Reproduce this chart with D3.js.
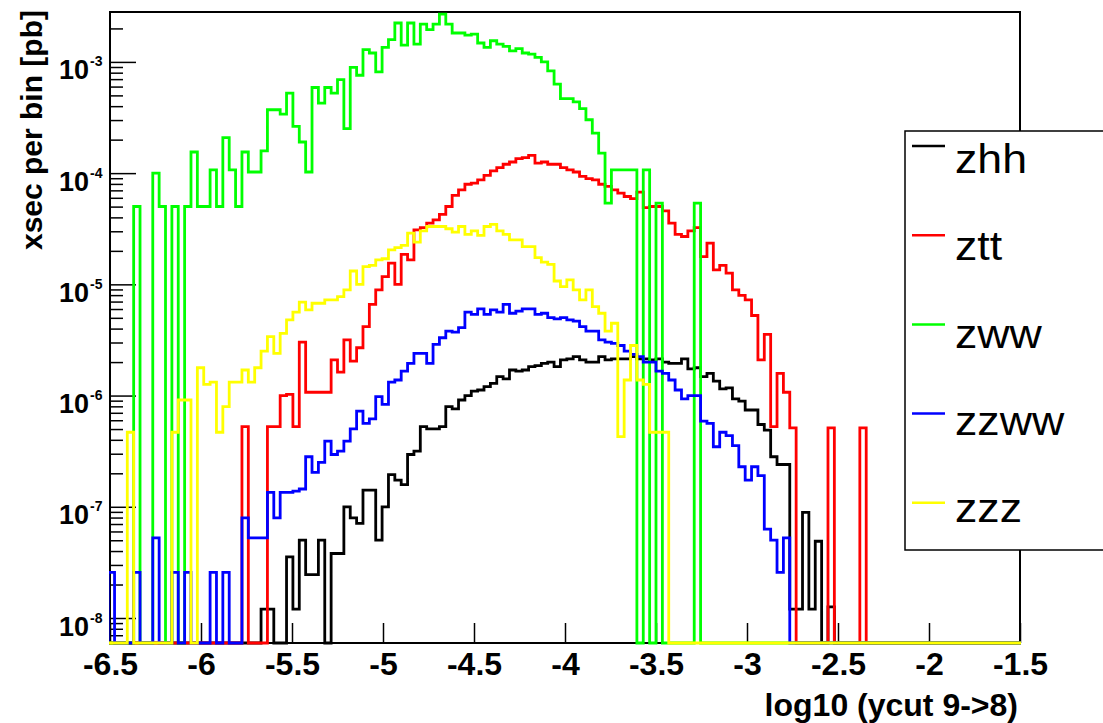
<!DOCTYPE html>
<html>
<head>
<meta charset="utf-8">
<script src="https://cdn.jsdelivr.net/npm/d3@7/dist/d3.min.js"></script>
<style>
body { margin: 0; background: #fff; }
svg { display: block; font-family: "Liberation Sans", Arial, sans-serif; }
</style>
</head>
<body>
<script>
(function(){

//histogram binning (200 bins from -7 to 0)
var binLow = -7, binWidth = 0.035, nBins = 200;

//series names and ROOT colours
var seriesNames = ["zhh", "ztt", "zww", "zzww", "zzz"];
var seriesColors = ["#000000", "#ff0000", "#00ff00", "#0000ff", "#ffff00"];

//axis ticks
var xTicks = [-6.5, -6, -5.5, -5, -4.5, -4, -3.5, -3, -2.5, -2, -1.5];
var yDecades = [-8, -7, -6, -5, -4, -3];

//log10(xsec per bin), first value is bin *Start, null = empty bin
var zhhStart = 38;
var zhhLog = [-7.92, -7.92, null, null, -7.45, -7.92, -7.3, -7.61, -7.61, -7.3,
    null, -7.42, -7.42, -7.0, -7.1, -7.15, -6.85, -6.85, -7.3, -7.0,
    -6.71, -6.76, -6.8, -6.53, -6.5, -6.28, -6.3, -6.3, -6.28, -6.1,
    -6.12, -6.04, -6.0, -5.96, -5.95, -5.92, -5.89, -5.83, -5.85, -5.77,
    -5.78, -5.77, -5.74, -5.73, -5.71, -5.7, -5.74, -5.68, -5.67, -5.65,
    -5.68, -5.7, -5.7, -5.65, -5.68, -5.67, -5.67, -5.67, -5.65, -5.67,
    -5.67, -5.68, -5.67, -5.7, -5.71, -5.71, -5.67, -5.76, -5.75, -5.83,
    -5.8, -5.87, -5.94, -5.93, -6.03, -6.05, -6.13, -6.13, -6.26, -6.31,
    -6.55, -6.62, -6.62, -7.92, -7.92, -7.05, -7.92, -7.31, null, -7.9];

var zttStart = 35;
var zttLog = [-6.28, null, null, null, -6.28, -6.28, -6.0, -5.99, -6.28, -5.52,
    -5.97, -5.97, -5.97, -5.97, -5.68, -5.79, -5.5, -5.69, -5.57, -5.38,
    -5.18, -5.05, -4.93, -4.81, -5.0, -4.73, -4.78, -4.51, -4.49, -4.45,
    -4.42, -4.37, -4.3, -4.2, -4.15, -4.1, -4.09, -4.06, -4.02, -3.98,
    -3.95, -3.92, -3.9, -3.87, -3.86, -3.84, -3.91, -3.9, -3.92, -3.92,
    -3.95, -3.97, -3.99, -4.03, -4.05, -4.06, -4.1, -4.12, -4.15, -4.18,
    -4.21, -4.23, -4.17, -4.31, -4.3, -4.3, -4.34, -4.45, -4.55, -4.57,
    -4.52, -4.49, -4.75, -4.63, -4.87, -4.83, -4.9, -5.05, -5.1, -5.14,
    -5.28, -5.68, -5.45, -6.28, -5.8, -5.97, -6.29, null, null, null,
    null, null, -6.29, null, null, null, null, -6.29];

var zwwStart = 18;
var zwwLog = [-4.3, null, null, -4.0, -4.3, null, -4.3, null, -4.3, -3.81,
    -4.3, -4.3, -3.97, -4.3, -3.68, -3.97, -4.3, -3.81, -3.99, -3.99,
    -3.8, -3.43, -3.43, -3.47, -3.28, -3.58, -3.72, -3.99, -3.23, -3.37,
    -3.23, -3.28, -3.16, -3.6, -3.05, -3.12, -2.89, -2.92, -3.09, -2.87,
    -2.8, -2.65, -2.85, -2.65, -2.84, -2.66, -2.71, -2.66, -2.57, -2.66,
    -2.74, -2.74, -2.76, -2.75, -2.83, -2.87, -2.81, -2.84, -2.86, -2.9,
    -2.88, -2.92, -2.93, -2.96, -3.0, -3.08, -3.2, -3.33, -3.33, -3.36,
    -3.42, -3.52, -3.64, -3.82, -4.27, -3.97, -3.97, -3.97, -3.97, null,
    -3.97, null, -4.27, null, null, null, null, null, -4.27];

var zzwwStart = 14;
var zzwwLog = [-7.59, null, null, null, -7.59, null, null, -7.28, null, null,
    -7.59, null, -7.59, null, null, null, -7.59, null, -7.59, null,
    null, -7.1, -7.28, -7.28, -7.28, -6.87, -7.1, -6.87, -6.87, -6.86,
    -6.84, -6.55, -6.69, -6.6, -6.41, -6.53, -6.5, -6.41, -6.3, -6.14,
    -6.25, -6.21, -6.01, -6.08, -5.88, -5.86, -5.78, -5.71, -5.62, -5.62,
    -5.71, -5.54, -5.48, -5.42, -5.43, -5.39, -5.25, -5.27, -5.22, -5.27,
    -5.23, -5.25, -5.18, -5.26, -5.24, -5.22, -5.22, -5.27, -5.26, -5.3,
    -5.31, -5.3, -5.32, -5.33, -5.38, -5.42, -5.42, -5.5, -5.52, -5.53,
    -5.55, -5.6, -5.63, -5.65, -5.7, -5.7, -5.78, -5.8, -5.86, -5.95,
    -6.03, -6.0, -6.0, -6.23, -6.25, -6.46, -6.33, -6.36, -6.45, -6.64,
    -6.76, -6.64, -6.72, -7.2, -7.3, -7.59, -7.28];

var zzzStart = 17;
var zzzLog = [-6.33, null, null, null, null, null, null, -6.33, -6.04, -6.04,
    null, -5.75, -5.9, -5.88, -6.33, -6.1, -5.88, -5.88, -5.77, -5.88,
    -5.75, -5.6, -5.47, -5.62, -5.44, -5.32, -5.25, -5.16, -5.23, -5.17,
    -5.17, -5.14, -5.14, -5.11, -5.05, -4.88, -5.0, -4.84, -4.83, -4.78,
    -4.77, -4.69, -4.67, -4.65, -4.54, -4.62, -4.52, -4.48, -4.48, -4.48,
    -4.5, -4.53, -4.48, -4.55, -4.52, -4.56, -4.48, -4.46, -4.52, -4.55,
    -4.6, -4.6, -4.66, -4.66, -4.76, -4.8, -4.82, -4.97, -5.02, -4.96,
    -5.05, -5.14, -5.05, -5.2, -5.26, -5.42, -5.35, -6.37, -5.86, -5.55,
    -5.86, -5.9, -6.33, -6.33, -6.33];

var seriesStarts = [zhhStart, zttStart, zwwStart, zzwwStart, zzzStart];
var seriesLogs = [zhhLog, zttLog, zwwLog, zzwwLog, zzzLog];

window.onload = drawChart();

function drawChart(){
    var width = 1103, height = 723;

    var svg = d3.select("body")
        .append("svg")
        .attr("width", width)
        .attr("height", height);

    svg.append("rect")
        .attr("width", width)
        .attr("height", height)
        .attr("fill", "#fff");

    //scales
    var x = d3.scaleLinear()
        .domain([-6.5, -1.5])
        .range([110, 1020]);

    var y = d3.scaleLog()
        .domain([5.96e-9, 2.81e-3])
        .range([643, 12]);

    var yFloor = y.range()[0];

    //frame
    svg.append("rect")
        .attr("x", x.range()[0])
        .attr("y", y.range()[1])
        .attr("width", x.range()[1] - x.range()[0])
        .attr("height", y.range()[0] - y.range()[1])
        .attr("fill", "none")
        .attr("stroke", "#000")
        .attr("stroke-width", 2);

    //x axis, ticks pointing up
    var xAxis = d3.axisBottom(x)
        .tickValues(xTicks)
        .tickFormat(function(d){ return d; })
        .tickSizeInner(-20)
        .tickSizeOuter(0)
        .tickPadding(9);

    var gx = svg.append("g")
        .attr("transform", "translate(0," + yFloor + ")")
        .call(xAxis);
    gx.select(".domain").remove();
    gx.selectAll(".tick line").attr("stroke-width", 1.5);
    gx.selectAll(".tick text")
        .attr("font-family", "Liberation Sans, Arial, sans-serif")
        .attr("font-weight", "bold")
        .attr("font-size", 32)
        .attr("fill", "#000");

    //y axis minor ticks
    var minorTicks = [];
    for (var e = -9; e <= -3; e++){
        for (var k = 2; k <= 9; k++){
            var v = k * Math.pow(10, e);
            if (v > y.domain()[0] && v < y.domain()[1]) minorTicks.push(v);
        }
    }

    var gyMinor = svg.append("g")
        .attr("transform", "translate(" + x.range()[0] + ",0)")
        .call(d3.axisLeft(y).tickValues(minorTicks).tickFormat("").tickSizeInner(-13).tickSizeOuter(0));
    gyMinor.select(".domain").remove();
    gyMinor.selectAll(".tick line").attr("stroke-width", 1.5);

    //y axis major ticks with 10^n labels
    var gy = svg.append("g")
        .attr("transform", "translate(" + x.range()[0] + ",0)")
        .call(d3.axisLeft(y)
            .tickValues(yDecades.map(function(d){ return Math.pow(10, d); }))
            .tickFormat("")
            .tickSizeInner(-26)
            .tickSizeOuter(0));
    gy.select(".domain").remove();
    gy.selectAll(".tick line").attr("stroke-width", 1.5);

    gy.selectAll(".tick").each(function(d){
        var t = d3.select(this);
        t.append("text")
            .attr("x", -21)
            .attr("y", 17)
            .attr("text-anchor", "end")
            .attr("font-weight", "bold")
            .attr("font-size", 27)
            .attr("fill", "#000")
            .text("10");
        t.append("text")
            .attr("x", -20)
            .attr("y", 4)
            .attr("text-anchor", "start")
            .attr("font-weight", "bold")
            .attr("font-size", 14)
            .attr("fill", "#000")
            .text(Math.round(Math.log10(d)));
    });

    //axis titles
    svg.append("text")
        .attr("x", 1018)
        .attr("y", 716)
        .attr("text-anchor", "end")
        .attr("font-weight", "bold")
        .attr("font-size", 32)
        .text("log10 (ycut 9->8)");

    svg.append("text")
        .attr("transform", "translate(42,10) rotate(-90)")
        .attr("text-anchor", "end")
        .attr("font-weight", "bold")
        .attr("font-size", 30)
        .text("xsec per bin [pb]");

    //clip histograms to the frame
    svg.append("clipPath")
        .attr("id", "frameClip")
        .append("rect")
        .attr("x", x.range()[0] - 1)
        .attr("y", y.range()[1])
        .attr("width", x.range()[1] - x.range()[0] + 2)
        .attr("height", y.range()[0] - y.range()[1] + 3);

    var line = d3.line()
        .x(function(d){ return x(d[0]); })
        .y(function(d){ return d[1] == null ? yFloor : y(Math.pow(10, d[1])); })
        .curve(d3.curveStepAfter);

    var hists = svg.append("g").attr("clip-path", "url(#frameClip)");

    seriesNames.forEach(function(name, s){
        var pts = histPoints(seriesStarts[s], seriesLogs[s]);
        hists.append("path")
            .datum(pts)
            .attr("class", "hist " + name)
            .attr("d", line)
            .attr("fill", "none")
            .attr("stroke", seriesColors[s])
            .attr("stroke-width", 2.8);
    });

    //legend
    var legend = svg.append("g").attr("class", "legend");
    legend.append("rect")
        .attr("x", 905)
        .attr("y", 131)
        .attr("width", 230)
        .attr("height", 419)
        .attr("fill", "#fff")
        .attr("stroke", "#000")
        .attr("stroke-width", 1.5);

    seriesNames.forEach(function(name, s){
        var ly = 146 + s * 89.2,
            ty = 173 + s * 87.3;
        legend.append("line")
            .attr("x1", 912)
            .attr("x2", 945)
            .attr("y1", ly)
            .attr("y2", ly)
            .attr("stroke", seriesColors[s])
            .attr("stroke-width", 2.5);
        legend.append("text")
            .attr("transform", "translate(955," + ty + ") scale(1.09,1)")
            .attr("font-size", 41)
            .attr("fill", "#000")
            .text(name);
    });
};

//build step points for one histogram over all bins
function histPoints(start, logs){
    var pts = [[binLow, null]];
    var last = null;
    for (var i = 0; i < nBins; i++){
        var v = (i >= start && i < start + logs.length) ? logs[i - start] : null;
        pts.push([binLow + i * binWidth, v]);
        last = v;
    }
    pts.push([binLow + nBins * binWidth, last]);
    return pts;
};

})();
</script>
</body>
</html>
